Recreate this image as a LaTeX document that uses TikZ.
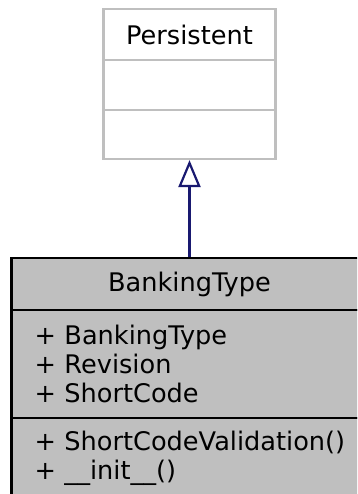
\documentclass[tikz,border=0pt]{standalone}
\usepackage{fontspec}
\setmainfont{DejaVu Sans}
\usetikzlibrary{arrows.meta}
\definecolor{umlgray}{HTML}{BFBFBF}
\definecolor{umlblue}{HTML}{191970}
\tikzset{>={Triangle[open,length=27pt,width=22pt]}}
\tikzset{pcell/.style={draw=umlgray,line width=2.2pt,fill=white,minimum width=172pt,inner sep=0pt,font=\fontsize{25.6}{29.4}\selectfont}}
\tikzset{bcell/.style={draw=black,line width=2.4pt,fill=umlgray,minimum width=356pt,inner sep=0pt,font=\fontsize{25.6}{29.4}\selectfont}}
\tikzset{brows/.style={bcell,text width=340pt,inner xsep=23pt,align=left}}

\begin{document}
\begin{tikzpicture}[x=1pt,y=-1pt]
    \useasboundingbox (0,0) rectangle (357,494);
    \clip (0,0) rectangle (357,494);
    \node[pcell,minimum height=51pt] (P1) at (189.5,34.5) {Persistent};
    \node[pcell,minimum height=50pt] (P2) at (189.5,85) {};
    \node[pcell,minimum height=49pt] (P3) at (189.5,134.5) {};
    \node[bcell,minimum height=52pt] (B1) at (189.5,284) {BankingType};
    \node[brows,minimum height=108pt] (B2) at (204.5,364) {+ BankingType\\+ Revision\\+ ShortCode};
    \node[brows,minimum height=80pt] (B3) at (204.5,458) {+ ShortCodeValidation()\\+ \_\_init\_\_()};
    \draw[->,umlblue,line width=2.2pt] (B1.north) -- (P3.south);
  \end{tikzpicture}
\end{document}
